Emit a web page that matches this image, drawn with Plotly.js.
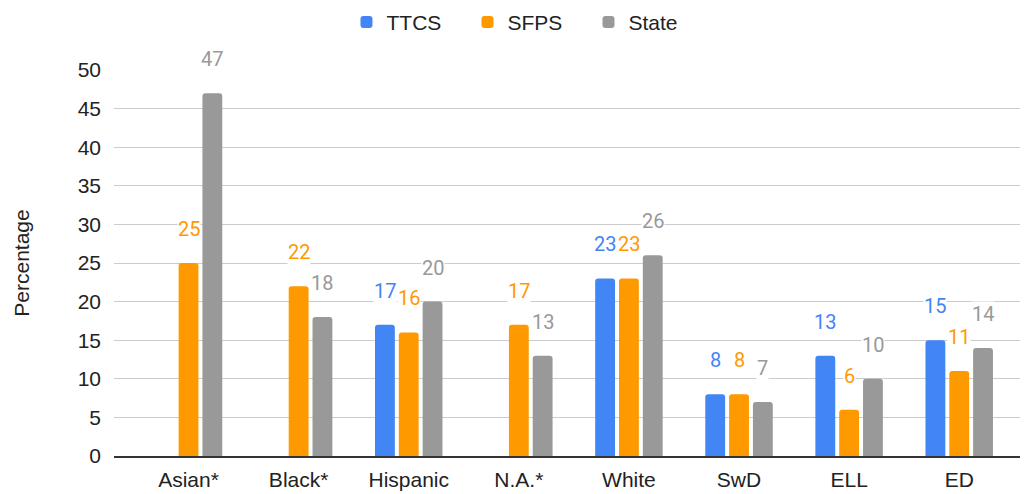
<!DOCTYPE html>
<html>
<head>
<meta charset="utf-8">
<script src="https://cdn.plot.ly/plotly-3.0.1.min.js"></script>
<style>html,body{margin:0;padding:0;background:#fff;}#chart{width:1026px;height:494px;}</style>
</head>
<body>
<div id="chart"></div>
<script>
const categories = ["Asian*", "Black*", "Hispanic", "N.A.*", "White", "SwD", "ELL", "ED"];
const ttcs  = [null, null, 17, null, 23, 8, 13, 15];
const sfps  = [25, 22, 16, 17, 23, 8, 6, 11];
const state = [47, 18, 20, 13, 26, 7, 10, 14];
const seriesNames = ["TTCS", "SFPS", "State"];
const yTicks = [0, 5, 10, 15, 20, 25, 30, 35, 40, 45, 50];

const colors = ["#4285F4", "#FF9900", "#999999"];
const seriesValues = [ttcs, sfps, state];
const FONT = "Liberation Sans, Arial, sans-serif";

const traces = seriesValues.map((vals, i) => ({
  type: "bar",
  name: seriesNames[i],
  x: categories,
  y: vals,
  marker: {color: colors[i]},
  hoverinfo: "x+y+name"
}));

const slotPx = 23.8;
const annotations = [];
seriesValues.forEach((vals, i) => {
  vals.forEach((v, j) => {
    if (v === null) return;
    annotations.push({
      x: categories[j], y: v, xref: "x", yref: "y",
      text: String(v), showarrow: false,
      xanchor: "center", yanchor: "bottom",
      xshift: (i - 1) * slotPx, yshift: 21,
      bgcolor: "rgba(255,255,255,1)", borderpad: 0,
      font: {family: "Roboto, sans-serif", size: 20, color: colors[i]}
    });
  });
});

const layout = {
  width: 1026, height: 494,
  margin: {l: 114, r: 6, t: 70, b: 38},
  paper_bgcolor: "#fff", plot_bgcolor: "#fff",
  barmode: "group",
  bargap: 0.351,
  bargroupgap: 0.167,
  barcornerradius: 3,
  font: {family: FONT, size: 20, color: "#222"},
  showlegend: true,
  legend: {
    orientation: "h", xref: "container", yref: "container",
    x: 0.5146, xanchor: "center", y: 0.955, yanchor: "middle",
    font: {family: FONT, size: 21, color: "#222"},
    itemwidth: 30, traceorder: "normal",
    entrywidth: 76, entrywidthmode: "pixels"
  },
  xaxis: {
    type: "category",
    range: [-0.677, 7.552],
    showgrid: false,
    showline: true, linecolor: "#333", linewidth: 1.5,
    ticks: "", zeroline: false,
    ticklabelstandoff: 4,
    tickfont: {family: FONT, size: 21, color: "#222"}
  },
  yaxis: {
    range: [0, 50],
    tickvals: yTicks,
    ticktext: yTicks.map(String),
    showgrid: true, gridcolor: "#cccccc", gridwidth: 1,
    zeroline: false, showline: false, ticks: "",
    ticklabelstandoff: 12,
    tickfont: {family: FONT, size: 21, color: "#222"},
    title: {text: "Percentage", standoff: 42,
            font: {family: FONT, size: 21, color: "#222"}}
  },
  annotations: annotations
};

Plotly.newPlot("chart", traces, layout, {displayModeBar: false, staticPlot: true});
</script>
</body>
</html>
